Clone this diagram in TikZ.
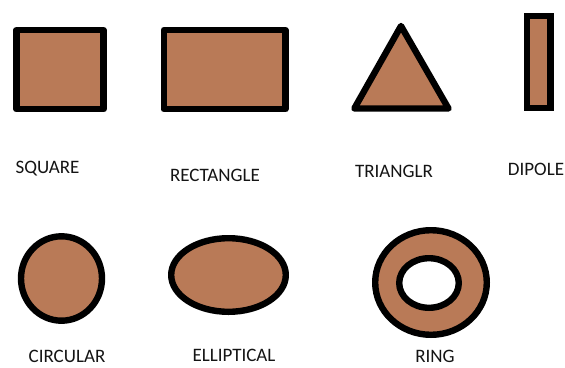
\documentclass[tikz,border=0pt]{standalone}
\usepackage{fontspec}
\setmainfont{Carlito}
\definecolor{paintbrown}{RGB}{185,122,87}
\definecolor{labelink}{RGB}{20,20,20}
\begin{document}
\begin{tikzpicture}[x=1pt,y=-1pt,
  shapebox/.style={draw=black,fill=paintbrown,line width=6.4pt,line join=round},
  hole/.style={draw=black,fill=white,line width=6.4pt},
  lbl/.style={text=labelink,inner sep=0pt,font=\fontsize{19}{22}\selectfont}]
\useasboundingbox (0,0) rectangle (565,367);
% top row
\draw[shapebox] (16.3,30) rectangle (103.5,109.2);
\draw[shapebox] (163.7,30) rectangle (285.3,109.2);
\draw[shapebox] (401,26) -- (448.5,108.5) -- (354.3,108.5) -- cycle;
\draw[shapebox,line join=miter] (526.7,15.8) rectangle (550.3,108);
% bottom row
\draw[shapebox] (61.5,278.5) ellipse [x radius=40.5, y radius=42.2];
\draw[shapebox] (228.5,275) ellipse [x radius=57.3, y radius=36.8];
\draw[shapebox] (431,282.5) ellipse [x radius=55.8, y radius=52.3];
\draw[hole] (429,283) ellipse [x radius=29.8, y radius=24.8];
% labels
\node[lbl] (square) at (47.5,169) {SQUARE};
\node[lbl] (rect) at (215,175) {RECTANGLE};
\node[lbl] (tri) at (394,171) {TRIANGLR};
\node[lbl] (dip) at (536,169) {DIPOLE};
\node[lbl] (circ) at (67,356) {CIRCULAR};
\node[lbl] (ell) at (234,355) {ELLIPTICAL};
\node[lbl] (ring) at (435,356) {RING};
\end{tikzpicture}
\end{document}
